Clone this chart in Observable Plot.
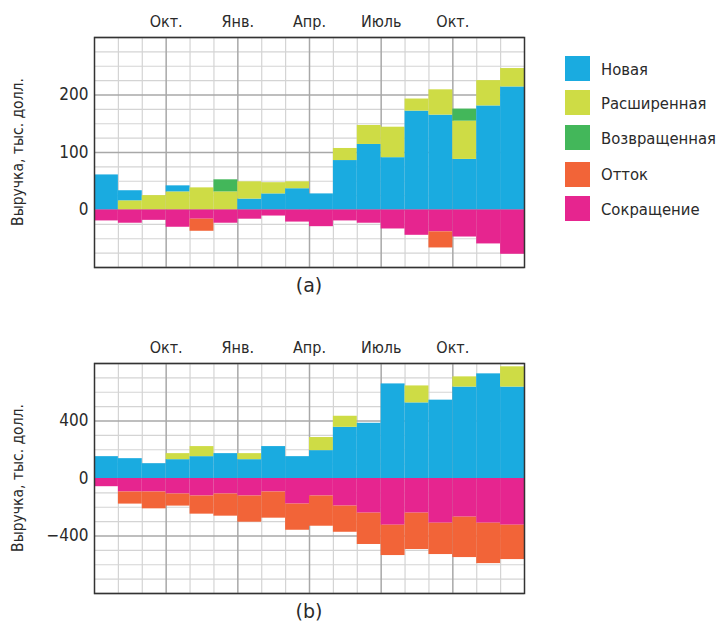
<!DOCTYPE html>
<html>
<head>
<meta charset="utf-8">
<script src="https://cdn.jsdelivr.net/npm/d3@7"></script>
<script src="https://cdn.jsdelivr.net/npm/@observablehq/plot@0.6"></script>
<style>
  body { margin: 0; background: #fff; }
  #root { position: relative; width: 717px; height: 624px; overflow: hidden;
          font-family: "DejaVu Sans Condensed", "DejaVu Sans", sans-serif; color: #2a2a2a; }
  .abs { position: absolute; }
  .ytitle { white-space: nowrap; font-size: 15.5px; transform: translate(-50%, -50%) rotate(-90deg); }
  .cap { white-space: nowrap; font-family: "DejaVu Sans", sans-serif; font-size: 19px; transform: translate(-50%, -50%); }
  .sw { width: 25px; height: 25px; }
  .lt { font-size: 16.5px; white-space: nowrap; transform: translateY(-50%); }
</style>
</head>
<body>
<div id="root"></div>
<script>
// ---- categories & labels ----
const monthIdx = d3.range(18);                     // 18 monthly columns
const tickPos = [3, 6, 9, 12, 15];                 // quarter boundaries
const tickLabels = ["Окт.", "Янв.", "Апр.", "Июль", "Окт."];
const seriesNames = ["Новая", "Расширенная", "Возвращенная", "Отток", "Сокращение"];
const seriesColors = ["#1aabe0", "#cedc45", "#43b75a", "#f26438", "#e6258f"];
const yTitle = "Выручка, тыс. долл.";

// ---- panel (a) values, thousand $ ----
const aNew         = [61, 17.5, 0, 10.5, 0, 0, 19, 28, 37, 28, 86, 114, 91, 172, 165, 88, 181, 214];
const aExpansion   = [0, 16, 25, 31.5, 38.5, 31.5, 30, 19.5, 12, 0, 21, 33, 53, 21, 44, 66.5, 44, 32];
const aResurrect   = [0, 0, 0, 0, 0, 21, 0, 0, 0, 0, 0, 0, 0, 0, 0, 21, 0, 0];
const aChurn       = [0, 0, 0, 0, -21, 0, 0, 0, 0, 0, 0, 0, 0, 0, -28, 0, 0, 0];
const aContraction = [-19, -23, -18, -30, -16, -23, -16, -10.5, -21, -29, -19, -23, -33, -44, -38, -47, -59, -77];
const aNewAboveExpansion = [1, 3];   // months where "Новая" is stacked above "Расширенная"

// ---- panel (b) values, thousand $ ----
const bNew         = [152, 138, 103, 131, 152, 173, 131, 222, 152, 194, 356, 384, 658, 526, 545, 636, 728, 636];
const bExpansion   = [0, 0, 0, 42, 70, 0, 42, 0, 0, 91, 77, 0, 0, 118, 0, 71, 0, 141];
const bResurrect   = [0, 0, 0, 0, 0, 0, 0, 0, 0, 0, 0, 0, 0, 0, 0, 0, 0, 0];
const bChurn       = [0, -84, -117, -84, -126, -154, -182, -182, -182, -210, -182, -218, -211, -253, -218, -281, -281, -239];
const bContraction = [-57, -94, -94, -108, -122, -108, -122, -94, -178, -122, -192, -241, -325, -241, -311, -269, -311, -325];

function buildRows(series, newAbove = []) {
  const rows = [];
  for (const i of monthIdx) {
    const order = newAbove.includes(i) ? [1, 0, 2, 4, 3] : [0, 1, 2, 4, 3];
    for (const k of order) {
      const v = series[k][i];
      if (v !== 0) rows.push({i, i2: i + 1, value: v, series: seriesNames[k]});
    }
  }
  return rows;
}

const rowsA = buildRows([aNew, aExpansion, aResurrect, aChurn, aContraction], aNewAboveExpansion);
const rowsB = buildRows([bNew, bExpansion, bResurrect, bChurn, bContraction]);

const minorX = monthIdx.filter(i => i > 0 && !tickPos.includes(i));

function panel(rows, domain, minorStep, majorStep) {
  const minorY = d3.range(domain[0], domain[1] + 1e-9, minorStep).filter(v => v % majorStep !== 0);
  const majorY = d3.range(domain[0], domain[1] + 1e-9, majorStep);
  const yTicks = majorY.filter(v => v > domain[0] && v < domain[1]);
  const svg = Plot.plot({
    width: 540, height: 271,
    marginLeft: 94, marginRight: 16, marginTop: 37, marginBottom: 4,
    style: {fontFamily: "'DejaVu Sans Condensed', 'DejaVu Sans', sans-serif", fontSize: "16px", color: "#2a2a2a", background: "transparent", overflow: "visible"},
    x: {domain: [0, 18], axis: "top", ticks: tickPos, tickFormat: d => tickLabels[tickPos.indexOf(d)], tickSize: 0, tickPadding: 11, label: null},
    y: {domain, ticks: yTicks, tickSize: 0, tickPadding: 6, label: null},
    color: {domain: seriesNames, range: seriesColors},
    marks: [
      Plot.ruleY(minorY, {stroke: "#d4d4d4", strokeWidth: 1.2}),
      Plot.ruleX(minorX, {stroke: "#d4d4d4", strokeWidth: 1.2}),
      Plot.ruleY(majorY, {stroke: "#a8a8a8", strokeWidth: 1.5}),
      Plot.ruleX(tickPos, {stroke: "#a8a8a8", strokeWidth: 1.5}),
      Plot.rectY(rows, {x1: "i", x2: "i2", y: "value", fill: "series"}),
      Plot.frame({stroke: "#333", strokeWidth: 1.5})
    ]
  });
  d3.select(svg).selectAll('g[aria-label="y-axis tick label"] text, g[aria-label="y-axis"] text')
    .style("font-size", "17px");
  return svg;
}

const root = document.getElementById("root");
function place(el, left, top, cls) {
  const d = document.createElement("div");
  d.className = "abs" + (cls ? " " + cls : "");
  d.style.left = left + "px"; d.style.top = top + "px";
  if (typeof el === "string") d.textContent = el; else d.appendChild(el);
  root.appendChild(d);
  return d;
}

place(panel(rowsA, [-100, 300], 25, 100), 0, 0);
place(panel(rowsB, [-800, 800], 100, 400), 0, 326);
place(yTitle, 17.5, 151.5, "ytitle");
place(yTitle, 17.5, 478, "ytitle");
place("(a)", 309, 285, "cap");
place("(b)", 309, 611, "cap");

const legendY = [68.5, 102.5, 137.5, 174, 208.5];
seriesNames.forEach((name, k) => {
  const s = place("", 565, legendY[k] - 12.5, "sw");
  s.style.background = seriesColors[k];
  place(name, 601, legendY[k], "lt");
});
</script>
</body>
</html>
